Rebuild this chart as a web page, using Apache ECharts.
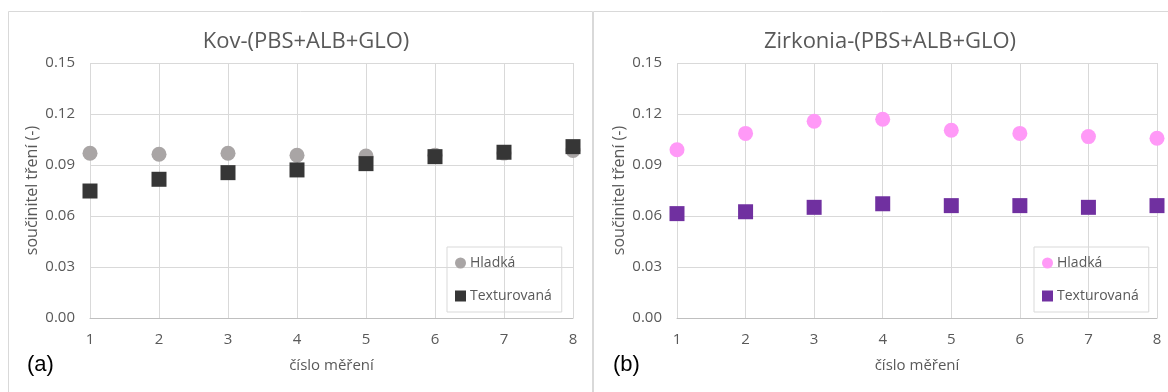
<!DOCTYPE html>
<html>
<head>
<meta charset="utf-8">
<script src="https://cdn.jsdelivr.net/npm/echarts@6/dist/echarts.min.js"></script>
<style>
html,body{margin:0;padding:0;background:#fff;}
#c{width:1168px;height:392px;}
</style>
</head>
<body>
<div id="c"></div>
<script>
const categories = ['1','2','3','4','5','6','7','8'];
const yTicks = [0, 0.03, 0.06, 0.09, 0.12, 0.15];
const titleA = 'Kov-(PBS+ALB+GLO)';
const titleB = 'Zirkonia-(PBS+ALB+GLO)';
const seriesNames = ['Hladká', 'Texturovaná'];
const kovHladka = [0.0969, 0.0963, 0.0969, 0.0957, 0.0953, 0.0958, 0.0970, 0.0985];
const kovTextur = [0.0747, 0.0816, 0.0855, 0.0871, 0.0908, 0.0949, 0.0975, 0.1008];
const zirHladka = [0.0990, 0.1086, 0.1157, 0.1169, 0.1104, 0.1086, 0.1067, 0.1057];
const zirTextur = [0.0614, 0.0625, 0.0651, 0.0672, 0.0661, 0.0661, 0.0651, 0.0661];

const FONT = '"Open Sans", sans-serif';
const TXT = '#595959';
const GRIDC = '#D9D9D9';

function xAx(gi){
  return {
    type:'category', gridIndex:gi, data:categories, boundaryGap:false,
    axisLine:{show:true, lineStyle:{color:'#BFBFBF', width:1}},
    axisTick:{show:false},
    axisLabel:{color:TXT, fontFamily:FONT, fontSize:15, margin:14},
    splitLine:{show:true, lineStyle:{color:GRIDC, width:1}},
    name:'číslo měření', nameLocation:'middle', nameGap:40,
    nameTextStyle:{color:TXT, fontFamily:FONT, fontSize:15}
  };
}
function yAx(gi){
  return {
    type:'value', gridIndex:gi, min:yTicks[0], max:yTicks[yTicks.length-1], interval:0.03,
    axisLine:{show:false}, axisTick:{show:false},
    axisLabel:{color:TXT, fontFamily:FONT, fontSize:15, margin:15, formatter:v=>v.toFixed(2)},
    splitLine:{show:true, lineStyle:{color:GRIDC, width:1}},
    name:'součinitel tření (-)', nameLocation:'middle', nameGap:50,
    nameTextStyle:{color:TXT, fontFamily:FONT, fontSize:16}
  };
}
function legend(left, names, panel){
  return {
    orient:'vertical', left:left, top:247,
    data:names.map(n=>n+'_'+panel),
    formatter:n=>n.split('_')[0],
    itemWidth:11, itemHeight:11, itemGap:19,
    padding:[9,10,9,8],
    borderColor:GRIDC, borderWidth:1,
    textStyle:{color:TXT, fontFamily:FONT, fontSize:14, padding:[0,0,0,-1]},
    selectedMode:false
  };
}

const option = {
  animation:false,
  backgroundColor:'#fff',
  title:[
    {text:titleA, left:301, top:26, textAlign:'center', textStyle:{color:TXT, fontFamily:FONT, fontSize:22, fontWeight:'normal'}},
    {text:titleB, left:885, top:26, textAlign:'center', textStyle:{color:TXT, fontFamily:FONT, fontSize:22, fontWeight:'normal'}}
  ],
  grid:[
    {left:90, right:595, top:63, bottom:74},
    {left:677, right:11, top:63, bottom:74}
  ],
  xAxis:[xAx(0), xAx(1)],
  yAxis:[yAx(0), yAx(1)],
  legend:[legend(447, seriesNames, 'a'), legend(1034, seriesNames, 'b')],
  graphic:[
    {type:'rect', shape:{x:8.5, y:11.5, width:584, height:420}, style:{fill:'none', stroke:GRIDC, lineWidth:1}, z:-1},
    {type:'rect', shape:{x:593.5, y:11.5, width:600, height:420}, style:{fill:'none', stroke:GRIDC, lineWidth:1}, z:-1},
    {type:'text', left:27, top:354, style:{text:'(a)', fill:'#000', font:'22px "Liberation Sans", Arial, sans-serif'}},
    {type:'text', left:613, top:354, style:{text:'(b)', fill:'#000', font:'22px "Liberation Sans", Arial, sans-serif'}}
  ],
  series:[
    {name:seriesNames[0]+'_a', type:'scatter', xAxisIndex:0, yAxisIndex:0, data:kovHladka, symbol:'circle', symbolSize:15, itemStyle:{color:'#A9A5A5', opacity:1}},
    {name:seriesNames[1]+'_a', type:'scatter', xAxisIndex:0, yAxisIndex:0, data:kovTextur, symbol:'rect', symbolSize:15, itemStyle:{color:'#363636', opacity:1}},
    {name:seriesNames[0]+'_b', type:'scatter', xAxisIndex:1, yAxisIndex:1, data:zirHladka, symbol:'circle', symbolSize:15, itemStyle:{color:'#FF99F7', opacity:1}},
    {name:seriesNames[1]+'_b', type:'scatter', xAxisIndex:1, yAxisIndex:1, data:zirTextur, symbol:'rect', symbolSize:15, itemStyle:{color:'#7030A0', opacity:1}}
  ]
};
const chart = echarts.init(document.getElementById('c'), null, {renderer:'canvas'});
chart.setOption(option);
</script>
</body>
</html>
